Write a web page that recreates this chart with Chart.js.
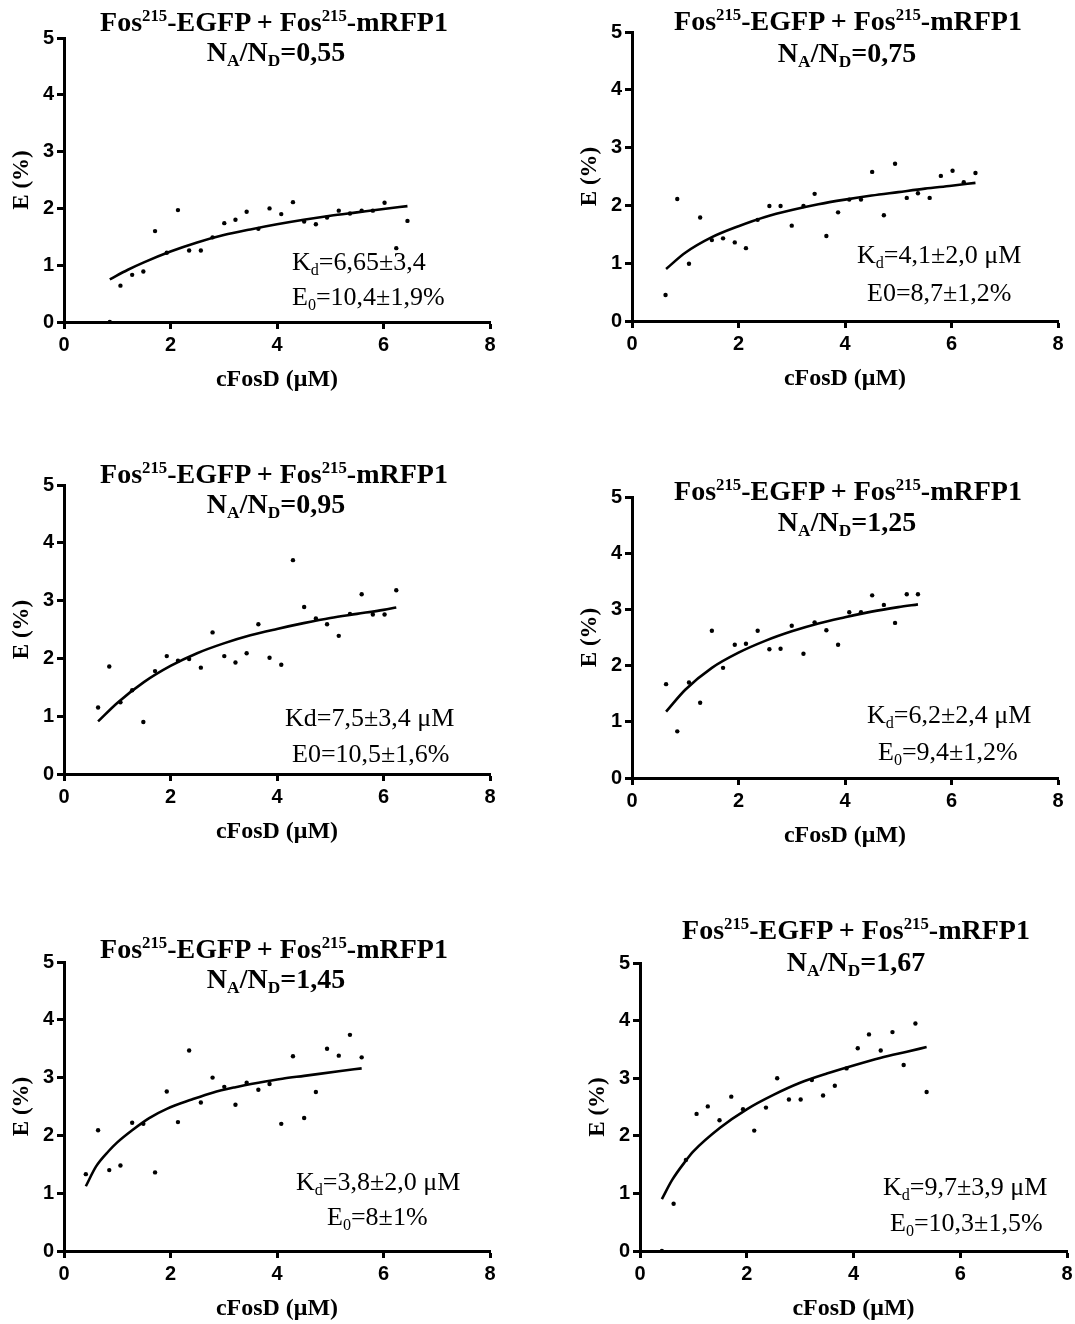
<!DOCTYPE html>
<html>
<head>
<meta charset="utf-8">
<script src="https://cdn.jsdelivr.net/npm/chart.js@4.4.1/dist/chart.umd.min.js"></script>
<style>
  body { margin: 0; background: #fff; width: 1075px; height: 1324px; position: relative; overflow: hidden; }
  .panel { position: absolute; }
  .txt { position: absolute; white-space: nowrap; font-family: "Liberation Serif", "Times New Roman", serif; color: #000; line-height: 1; }
  .ttl { font-weight: bold; font-size: 28px; transform: translate(-50%, -50%); }
  .ann { font-size: 26px; transform: translateY(-50%); }
  .sp { font-size: 0.6em; position: relative; top: -0.6em; }
  .sb { font-size: 0.62em; position: relative; top: 0.3em; }
</style>
</head>
<body>
<script>
// 目盛り
const xTicks = [0, 2, 4, 6, 8];
const yTicks = [0, 1, 2, 3, 4, 5];

// NA/ND=0,55
const x055 = [0.86, 1.06, 1.28, 1.49, 1.71, 1.93, 2.14, 2.35, 2.57, 2.79, 3.01, 3.22, 3.43, 3.65, 3.86, 4.08, 4.30, 4.51, 4.73, 4.94, 5.16, 5.37, 5.59, 5.80, 6.02, 6.24, 6.45];
const e055 = [0, 0.64, 0.83, 0.89, 1.60, 1.22, 1.97, 1.26, 1.26, 1.49, 1.74, 1.80, 1.94, 1.64, 2.00, 1.90, 2.11, 1.77, 1.72, 1.84, 1.96, 1.91, 1.96, 1.96, 2.10, 1.30, 1.78];
const fitX055 = [0.86, 1.2, 1.5, 2.0, 2.5, 3.0, 3.5, 4.0, 4.5, 5.0, 5.5, 6.0, 6.45];
const fitE055 = [0.75, 0.92, 1.05, 1.24, 1.40, 1.53, 1.63, 1.72, 1.80, 1.87, 1.93, 1.99, 2.04];

// NA/ND=0,75
const x075 = [0.63, 0.85, 1.07, 1.28, 1.50, 1.71, 1.93, 2.14, 2.36, 2.58, 2.79, 3.00, 3.22, 3.43, 3.65, 3.87, 4.08, 4.30, 4.51, 4.73, 4.94, 5.16, 5.37, 5.59, 5.80, 6.02, 6.23, 6.45];
const e075 = [0.45, 2.11, 0.99, 1.79, 1.40, 1.43, 1.36, 1.26, 1.75, 1.99, 1.99, 1.65, 1.99, 2.20, 1.47, 1.88, 2.10, 2.10, 2.58, 1.83, 2.72, 2.13, 2.21, 2.13, 2.51, 2.60, 2.40, 2.56];
const fitX075 = [0.64, 1.0, 1.5, 2.0, 2.5, 3.0, 3.5, 4.0, 4.5, 5.0, 5.5, 6.0, 6.45];
const fitE075 = [0.90, 1.18, 1.45, 1.64, 1.80, 1.92, 2.02, 2.10, 2.17, 2.23, 2.29, 2.34, 2.39];

// NA/ND=0,95
const x095 = [0.64, 0.85, 1.06, 1.28, 1.49, 1.71, 1.93, 2.14, 2.35, 2.57, 2.79, 3.01, 3.22, 3.43, 3.65, 3.86, 4.08, 4.30, 4.51, 4.73, 4.94, 5.16, 5.37, 5.59, 5.80, 6.02, 6.24];
const e095 = [1.15, 1.86, 1.24, 1.45, 0.90, 1.78, 2.04, 1.96, 1.99, 1.84, 2.45, 2.04, 1.93, 2.09, 2.59, 2.01, 1.89, 3.70, 2.89, 2.69, 2.59, 2.39, 2.77, 3.11, 2.76, 2.76, 3.18];
const fitX095 = [0.64, 1.0, 1.5, 2.0, 2.5, 3.0, 3.5, 4.0, 4.5, 5.0, 5.5, 6.0, 6.24];
const fitE095 = [0.91, 1.23, 1.59, 1.87, 2.09, 2.26, 2.40, 2.51, 2.61, 2.70, 2.77, 2.84, 2.88];

// NA/ND=1,25
const x125 = [0.64, 0.85, 1.07, 1.28, 1.50, 1.71, 1.93, 2.14, 2.36, 2.58, 2.79, 3.00, 3.22, 3.43, 3.65, 3.87, 4.08, 4.30, 4.51, 4.73, 4.94, 5.16, 5.37];
const e125 = [1.67, 0.83, 1.70, 1.34, 2.62, 1.96, 2.37, 2.39, 2.62, 2.29, 2.30, 2.71, 2.21, 2.77, 2.63, 2.37, 2.95, 2.95, 3.25, 3.08, 2.76, 3.27, 3.27];
const fitX125 = [0.64, 1.0, 1.5, 2.0, 2.5, 3.0, 3.5, 4.0, 4.5, 5.0, 5.37];
const fitE125 = [1.18, 1.57, 1.96, 2.23, 2.44, 2.61, 2.75, 2.86, 2.96, 3.04, 3.09];

// NA/ND=1,45
const x145 = [0.41, 0.64, 0.85, 1.06, 1.28, 1.49, 1.71, 1.93, 2.14, 2.35, 2.57, 2.79, 3.01, 3.22, 3.43, 3.65, 3.86, 4.08, 4.30, 4.51, 4.73, 4.94, 5.16, 5.37, 5.59];
const e145 = [1.33, 2.09, 1.40, 1.48, 2.22, 2.20, 1.36, 2.76, 2.23, 3.47, 2.57, 3.00, 2.84, 2.53, 2.91, 2.79, 2.89, 2.20, 3.37, 2.30, 2.75, 3.50, 3.38, 3.74, 3.35];
const fitX145 = [0.41, 0.6, 0.84, 1.0, 1.28, 1.6, 1.93, 2.4, 2.79, 3.2, 3.65, 4.1, 4.51, 5.16, 5.59];
const fitE145 = [1.12, 1.46, 1.73, 1.88, 2.09, 2.30, 2.46, 2.62, 2.74, 2.83, 2.91, 2.98, 3.03, 3.11, 3.16];

// NA/ND=1,67
const x167 = [0.41, 0.63, 0.86, 1.06, 1.27, 1.49, 1.71, 1.93, 2.14, 2.36, 2.57, 2.79, 3.01, 3.22, 3.43, 3.65, 3.87, 4.08, 4.29, 4.51, 4.73, 4.94, 5.16, 5.37];
const e167 = [0, 0.82, 1.58, 2.38, 2.51, 2.27, 2.68, 2.46, 2.09, 2.49, 3.00, 2.63, 2.63, 2.97, 2.70, 2.87, 3.17, 3.52, 3.76, 3.48, 3.80, 3.23, 3.95, 2.76];
const fitX167 = [0.41, 0.6, 0.86, 1.0, 1.5, 2.0, 2.5, 3.0, 3.5, 4.0, 4.5, 5.0, 5.37];
const fitE167 = [0.90, 1.23, 1.57, 1.73, 2.14, 2.46, 2.71, 2.92, 3.08, 3.22, 3.35, 3.46, 3.54];

// 各グラフ（位置は元画像のプロット枠に合わせる）
const titleTop = 'Fos<span class="sp">215</span>-EGFP + Fos<span class="sp">215</span>-mRFP1';
const panels = [
  { x: x055, e: e055, fx: fitX055, fe: fitE055, ratio: '0,55',
    left: 64, right: 490, top: 38, bottom: 322, t1: [274, 22], t2: [276, 52],
    a1: [292, 262, 'K<span class="sb">d</span>=6,65±3,4'], a2: [292, 297, 'E<span class="sb">0</span>=10,4±1,9%'] },
  { x: x075, e: e075, fx: fitX075, fe: fitE075, ratio: '0,75',
    left: 632, right: 1058, top: 32, bottom: 321, t1: [848, 21], t2: [847, 53],
    a1: [857, 255, 'K<span class="sb">d</span>=4,1±2,0 μM'], a2: [867, 293, 'E0=8,7±1,2%'] },
  { x: x095, e: e095, fx: fitX095, fe: fitE095, ratio: '0,95',
    left: 64, right: 490, top: 485, bottom: 774, t1: [274, 474], t2: [276, 504],
    a1: [285, 718, 'Kd=7,5±3,4 μM'], a2: [292, 754, 'E0=10,5±1,6%'] },
  { x: x125, e: e125, fx: fitX125, fe: fitE125, ratio: '1,25',
    left: 632, right: 1058, top: 497, bottom: 778, t1: [848, 491], t2: [847, 522],
    a1: [867, 715, 'K<span class="sb">d</span>=6,2±2,4 μM'], a2: [878, 752, 'E<span class="sb">0</span>=9,4±1,2%'] },
  { x: x145, e: e145, fx: fitX145, fe: fitE145, ratio: '1,45',
    left: 64, right: 490, top: 962, bottom: 1251, t1: [274, 949], t2: [276, 979],
    a1: [296, 1182, 'K<span class="sb">d</span>=3,8±2,0 μM'], a2: [327, 1217, 'E<span class="sb">0</span>=8±1%'] },
  { x: x167, e: e167, fx: fitX167, fe: fitE167, ratio: '1,67',
    left: 640, right: 1067, top: 963, bottom: 1251, t1: [856, 930], t2: [856, 962],
    a1: [883, 1187, 'K<span class="sb">d</span>=9,7±3,9 μM'], a2: [890, 1223, 'E<span class="sb">0</span>=10,3±1,5%'] }
];

function addText(cls, x, y, html) {
  const d = document.createElement('div');
  d.className = 'txt ' + cls;
  d.style.left = x + 'px';
  d.style.top = y + 'px';
  d.innerHTML = html;
  document.body.appendChild(d);
}

const tickFont = { family: 'Liberation Sans', weight: 'bold', size: 20 };
const axisFont = { family: 'Liberation Serif', weight: 'bold', size: 23 };

panels.forEach(p => {
  const w = p.right - p.left + 64 + 20;
  const h = p.bottom - p.top + 20 + 76;
  const box = document.createElement('div');
  box.className = 'panel';
  box.style.left = (p.left - 64) + 'px';
  box.style.top = (p.top - 20) + 'px';
  const cv = document.createElement('canvas');
  cv.width = w;
  cv.height = h;
  box.appendChild(cv);
  document.body.appendChild(box);

  new Chart(cv, {
    type: 'scatter',
    data: {
      datasets: [{
        data: p.x.map((v, i) => ({ x: v, y: p.e[i] })),
        pointRadius: 2.2,
        pointBackgroundColor: '#000',
        pointBorderWidth: 0
      }, {
        data: p.fx.map((v, i) => ({ x: v, y: p.fe[i] })),
        showLine: true,
        borderColor: '#000',
        borderWidth: 2.6,
        pointRadius: 0,
        cubicInterpolationMode: 'monotone'
      }]
    },
    options: {
      responsive: false,
      animation: false,
      layout: { padding: { top: 20, right: 20, left: 0, bottom: 0 } },
      plugins: { legend: { display: false }, tooltip: { enabled: false } },
      scales: {
        x: {
          type: 'linear', min: 0, max: 8,
          afterBuildTicks: s => { s.ticks = xTicks.map(v => ({ value: v })); },
          afterFit: s => { s.height = 76; },
          grid: { drawOnChartArea: false, tickLength: 7, tickWidth: 3, tickColor: '#000' },
          border: { color: '#000', width: 3 },
          ticks: { color: '#000', font: tickFont, padding: 4, maxRotation: 0 },
          title: { display: true, text: 'cFosD (μM)', color: '#000', font: { family: 'Liberation Serif', weight: 'bold', size: 24 }, padding: { top: 0, bottom: 4 } }
        },
        y: {
          type: 'linear', min: 0, max: 5,
          afterBuildTicks: s => { s.ticks = yTicks.map(v => ({ value: v })); },
          afterFit: s => { s.width = 64; },
          grid: { drawOnChartArea: false, tickLength: 7, tickWidth: 3, tickColor: '#000' },
          border: { color: '#000', width: 3 },
          ticks: { color: '#000', font: tickFont, padding: 3 },
          title: { display: true, text: 'E (%)', color: '#000', font: axisFont, padding: { top: 8, bottom: 0 } }
        }
      }
    }
  });

  addText('ttl', p.t1[0], p.t1[1], titleTop);
  addText('ttl', p.t2[0], p.t2[1], 'N<span class="sb">A</span>/N<span class="sb">D</span>=' + p.ratio);
  addText('ann', p.a1[0], p.a1[1], p.a1[2]);
  addText('ann', p.a2[0], p.a2[1], p.a2[2]);
});
</script>
</body>
</html>
